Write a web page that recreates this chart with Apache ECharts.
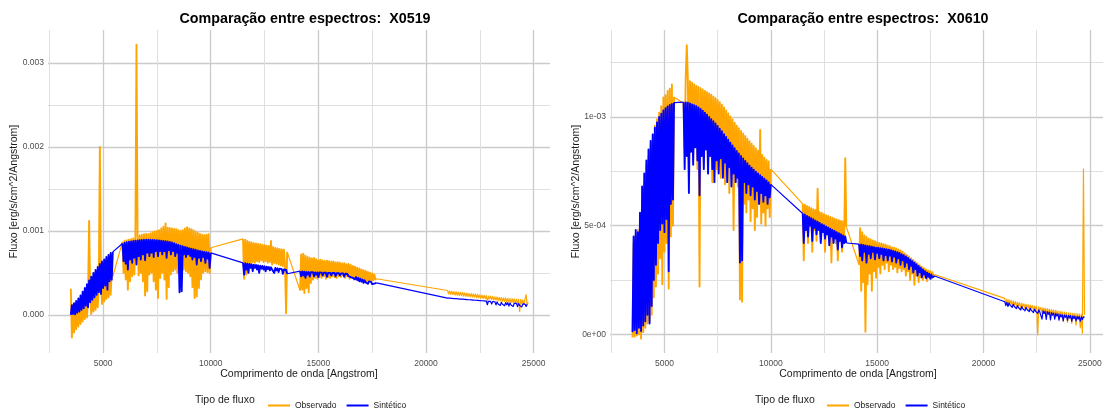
<!DOCTYPE html>
<html>
<head>
<meta charset="utf-8">
<script src="https://cdn.jsdelivr.net/npm/echarts@6/dist/echarts.min.js"></script>
<style>
  html, body { margin: 0; padding: 0; background: #ffffff; }
  #chart { width: 1103px; height: 412px; }
</style>
</head>
<body>
<div id="chart"></div>
<script>
// Spectra sampled on a 50 Angstrom grid inside each observed window.
// Flux values are in units of 1e-6 erg/s/cm^2/Angstrom.
const STEP = 50;
const windowStarts = [3500, 5900, 11500, 14150, 21000];
// windows rich in absorption lines, drawn with a heavier stroke
const denseWindows = [true, true, true, true, false];

const observedX0519 = [
  [310, -270, 120, -210, 100, -170, 110, -140, 130, -110, 150, -80, 170, -50, 200, -30, 230, 1120, 260, 10,
   290, 40, 320, 60, 350, 90, 380, 2000, 410, 130, 430, 160, 460, 190, 480, 210, 500, 240, 520, 460],
  [870, 500, 880, 420, 890, 300, 895, 400, 900, 460, 910, 480, 925, 3220, 935, 470, 945, 500, 955, 400,
   960, 230, 965, 280, 960, 480, 970, 500, 985, 400, 995, 300, 1000, 200, 1010, 440, 1030, 500, 1050, 420,
   1090, 190, 1040, 330, 1035, 480, 1030, 520, 1025, 540, 1020, 500, 1010, 520, 1000, 540, 1010, 540, 1030,
   520, 1045, 500, 1030, 460, 1020, 330, 1010, 200, 990, 220, 975, 320, 965, 420, 955, 500, 950, 520, 955,
   510, 960, 500, 800],
  [905, 430, 895, 480, 880, 620, 870, 600, 862, 630, 855, 620, 850, 640, 845, 630, 842, 650, 835, 630,
   830, 640, 825, 620, 820, 630, 880, 600, 805, 620, 798, 610, 790, 600, 785, 590, 780, 580, 775, 600,
   20, 750],
  [290, 720, 300, 730, 260, 705, 320, 690, 270, 680, 380, 672, 420, 678, 440, 662, 430, 652, 450, 658,
   440, 648, 460, 642, 430, 646, 450, 640, 440, 632, 460, 636, 450, 624, 440, 628, 460, 620, 450, 612,
   470, 616, 440, 604, 460, 606, 430, 594, 450, 584, 420, 574, 440, 562, 410, 552, 430, 542, 400, 532,
   420, 522, 390, 512, 410, 502, 400, 492, 410, 482, 420, 430],
  [290, 250, 286, 243, 281, 242, 277, 236, 275, 233, 271, 231, 267, 229, 266, 224, 261, 221, 259, 219,
   254, 215, 253, 211, 249, 212, 247, 204, 243, 203, 238, 196, 236, 194, 231, 193, 229, 160, 224, 187,
   223, 181, 219, 177, 214, 176, 213, 169, 207, 166, 206, 161, 201, 159, 200, 153, 197, 151, 194, 147,
   193, 144, 189, 141, 188, 134, 184, 40, 183, 129, 179, 126, 186, 240, 120, 150]
];

const syntheticX0519 = [
  [0, 115, 10, 140, 5, 165, 25, 195, 40, 230, 60, 275, 80, 320, 110, 365, 90, 410, 150, 455,
   180, 500, 210, 535, 240, 570, 270, 605, 250, 635, 320, 660, 350, 690, 300, 715, 400, 738, 420, 750],
  [850, 640, 860, 610, 866, 540, 871, 660, 876, 620, 880, 680, 884, 600, 887, 700, 890, 660, 892, 720,
   894, 650, 895, 740, 895, 700, 894, 740, 893, 690, 891, 760, 889, 700, 887, 760, 884, 720, 881, 760,
   878, 680, 874, 770, 869, 720, 862, 760, 853, 700, 843, 740, 833, 270, 825, 280, 818, 720, 810, 690,
   803, 720, 795, 700, 788, 660, 782, 690, 775, 600, 768, 680, 762, 640, 756, 690, 750, 620, 746, 670,
   742, 560, 738],
  [620, 480, 615, 540, 610, 500, 606, 560, 602, 520, 598, 560, 594, 540, 590, 500, 586, 550, 582, 540,
   578, 520, 574, 545, 570, 530, 566, 540, 562, 500, 558, 530, 554, 510, 550, 530, 545, 490, 540, 520,
   535, 490],
  [520, 460, 518, 470, 515, 440, 512, 480, 510, 455, 508, 485, 507, 460, 506, 480, 505, 450, 504, 485,
   503, 470, 502, 490, 501, 455, 500, 485, 500, 470, 499, 488, 498, 460, 497, 485, 496, 470, 494, 480,
   492, 455, 490, 475, 486, 460, 480, 450, 472, 440, 462, 425, 450, 415, 440, 400, 430, 395, 420, 380,
   412, 385, 405, 370, 398, 375, 392, 365, 388, 372, 384, 380],
  [200, 185, 198, 190, 196, 180, 194, 186, 192, 178, 190, 182, 188, 175, 186, 178, 184, 172, 182, 175,
   180, 168, 178, 170, 176, 165, 174, 168, 172, 160, 170, 164, 168, 158, 166, 150, 164, 120, 162, 140,
   160, 130, 158, 135, 156, 118, 154, 130, 152, 112, 150, 125, 148, 108, 146, 120, 144, 104, 142, 118,
   140, 100, 138, 115, 136, 98, 134, 110, 132, 95, 130, 108, 128, 100, 126]
];

const observedX0610 = [
  [-15, 420, -10, 460, -5, 480, 0, 520, -20, 620, 10, 700, 30, 780, 50, 820, 60, 870, 90, 920,
   170, 960, 220, 990, 280, 1020, 350, 1050, 230, 1090, 380, 1100, 420, 1120, 210, 1130, 450, 1150, 500, 1092],
  [1062, 850, 1180, 1330, 1175, 720, 1165, 860, 1158, 800, 1150, 880, 1143, 760, 1138, 220, 1132, 840, 1126, 780,
   1120, 870, 1114, 740, 1108, 850, 1102, 700, 1094, 820, 1086, 760, 1078, 840, 1068, 720, 1056, 800, 1044, 690,
   1030, 780, 1016, 650, 1002, 760, 988, 480, 974, 720, 960, 680, 948, 160, 936, 150, 924, 600, 912, 560,
   900, 620, 888, 520, 877, 580, 866, 480, 855, 540, 845, 600, 940, 510, 825, 560, 812, 500, 802, 580,
   795, 540, 760],
  [600, 340, 596, 480, 590, 420, 586, 500, 580, 380, 576, 480, 572, 430, 670, 490, 562, 450, 558, 470,
   552, 380, 548, 460, 544, 440, 540, 330, 536, 450, 532, 420, 528, 340, 525, 430, 522, 380, 520, 420,
   810, 495],
  [320, 488, 200, 470, 240, 455, 12, 448, 230, 440, 280, 436, 200, 432, 290, 428, 260, 424, 310, 420,
   280, 418, 320, 415, 300, 412, 330, 408, 290, 405, 320, 400, 300, 398, 310, 395, 285, 390, 305, 386,
   290, 380, 300, 372, 270, 365, 290, 358, 250, 350, 280, 342, 228, 334, 270, 326, 240, 318, 262, 310,
   250, 304, 262, 298, 245, 294, 262, 290, 255, 286, 266, 275],
  [165, 138, 162, 132, 160, 140, 156, 128, 154, 136, 150, 125, 148, 132, 145, 120, 143, 128, 140, 118,
   138, 124, 136, 112, 134, 120, 132, 108, 130, 115, 128, -3, 126, 110, 124, 100, 122, 106, 120, 95,
   118, 100, 116, 88, 114, 96, 112, 82, 110, 92, 108, 70, 106, 88, 104, 60, 102, 84, 100, 55,
   99, 80, 98, 50, 97, 75, 96, 42, 95, 70, 94, 30, 93, 5, 760, 90]
];

const syntheticX0610 = [
  [10, 450, 20, 480, 5, 470, 30, 560, 15, 680, 40, 740, 60, 800, 90, 850, 50, 890, 130, 920,
   250, 950, 320, 975, 420, 1000, 480, 1015, 510, 1030, 470, 1040, 530, 1048, 290, 1055, 600, 1060, 620, 1066],
  [1068, 760, 1067, 820, 1066, 650, 1062, 840, 1058, 780, 1054, 860, 1049, 800, 1044, 640, 1037, 820, 1029, 760,
   1020, 850, 1010, 740, 1000, 820, 990, 760, 980, 700, 970, 800, 958, 740, 946, 810, 934, 720, 921, 790,
   908, 700, 895, 770, 882, 680, 869, 740, 856, 700, 844, 720, 832, 330, 820, 340, 809, 700, 798, 650,
   787, 690, 776, 640, 766, 680, 757, 620, 748, 660, 740, 600, 732, 650, 724, 610, 716, 640, 708, 600,
   699, 630, 690],
  [556, 420, 551, 480, 545, 450, 540, 500, 534, 430, 529, 490, 523, 460, 518, 480, 512, 420, 507, 470,
   502, 440, 496, 460, 491, 410, 486, 450, 480, 420, 475, 440, 470, 390, 465, 430, 460, 400, 455, 420,
   450, 420],
  [415, 360, 413, 340, 411, 380, 409, 330, 407, 370, 405, 350, 403, 380, 401, 345, 399, 375, 398, 350,
   396, 370, 395, 340, 393, 365, 391, 340, 389, 362, 387, 335, 384, 358, 381, 330, 378, 350, 374, 320,
   369, 340, 364, 310, 358, 330, 351, 300, 344, 315, 337, 285, 330, 300, 322, 270, 314, 285, 306, 262,
   298, 275, 290, 258, 284, 265, 279, 255, 274, 262, 270, 268],
  [150, 132, 147, 128, 144, 134, 141, 124, 138, 128, 135, 118, 132, 122, 130, 112, 128, 118, 126, 108,
   124, 114, 122, 104, 120, 110, 118, 100, 116, 106, 114, 96, 112, 102, 110, 70, 108, 96, 106, 68,
   104, 92, 102, 66, 100, 88, 98, 70, 96, 84, 94, 65, 92, 80, 90, 62, 89, 78, 88, 64,
   87, 75, 86, 60, 85, 72, 84, 62, 83, 70, 82, 60, 81, 68, 80, 78]
];

// Axis ranges (wavelength in Angstrom, flux in 1e-6 units) and tick labels
const xRange = [2440, 25760];
const xTicks = [5000, 10000, 15000, 20000, 25000];
const yRangeX0519 = [-455, 3395];
const yTicksX0519 = [0, 1000, 2000, 3000];
const yTickTextX0519 = ['0.000', '0.001', '0.002', '0.003'];
const yRangeX0610 = [-86, 1400];
const yTicksX0610 = [0, 500, 1000];
const yTickTextX0610 = ['0e+00', '5e-04', '1e-03'];

const seriesNames = ['Observado', 'Sintético'];
const titles = ['Comparação entre espectros:  X0519', 'Comparação entre espectros:  X0610'];

const FONT = '"Liberation Sans", Arial, Helvetica, sans-serif';
const COLOR_OBS = '#FFA500';
const COLOR_SYN = '#0000FF';
const GAP = '-';

function windowPoints(vals, b) {
  return vals.map((v, i) => [windowStarts[b] + i * STEP, v]);
}

// Dense windows only, broken between windows.
function densePart(blocks) {
  const out = [];
  blocks.forEach((vals, b) => {
    if (!denseWindows[b]) return;
    const pts = windowPoints(vals, b);
    if (out.length) out.push([pts[0][0] - 1, GAP]);
    pts.forEach(p => out.push(p));
  });
  return out;
}

// Straight joins across unobserved ranges plus the sparse windows.
function joinPart(blocks) {
  const out = [];
  blocks.forEach((vals, b) => {
    const pts = windowPoints(vals, b);
    if (denseWindows[b]) {
      out.push(pts[0]);
      out.push([pts[0][0] + 1, GAP]);
      out.push(pts[pts.length - 1]);
    } else {
      pts.forEach(p => out.push(p));
    }
  });
  return out;
}

function xAxes(gridIndex) {
  const base = {
    type: 'value', gridIndex, position: 'bottom', min: xRange[0], max: xRange[1],
    axisLine: { show: false }, axisTick: { show: false }
  };
  return [
    Object.assign({}, base, {
      minInterval: 2500, maxInterval: 2500,
      axisLabel: { show: false },
      splitLine: { show: true, showMinLine: false, showMaxLine: false, lineStyle: { color: '#DFDFDF', width: 1 } }
    }),
    Object.assign({}, base, {
      minInterval: 5000, maxInterval: 5000,
      axisLabel: {
        show: true, showMinLabel: false, showMaxLabel: false, margin: 6,
        fontSize: 8.5, color: '#4D4D4D', fontFamily: FONT,
        formatter: v => (xTicks.indexOf(Math.round(v)) >= 0 ? String(Math.round(v)) : '')
      },
      splitLine: { show: true, showMinLine: false, showMaxLine: false, lineStyle: { color: '#CBCBCB', width: 1.3 } },
      name: 'Comprimento de onda [Angstrom]', nameLocation: 'middle', nameGap: 16,
      nameMoveOverlap: false,
      nameTextStyle: { fontSize: 10.5, color: '#1A1A1A', fontFamily: FONT }
    })
  ];
}

function yAxes(gridIndex, range, minorStep, majorStep, ticks, texts) {
  const base = {
    type: 'value', gridIndex, position: 'left', min: range[0], max: range[1],
    axisLine: { show: false }, axisTick: { show: false }
  };
  return [
    Object.assign({}, base, {
      minInterval: minorStep, maxInterval: minorStep,
      axisLabel: { show: false },
      splitLine: { show: true, showMinLine: false, showMaxLine: false, lineStyle: { color: '#DFDFDF', width: 1 } }
    }),
    Object.assign({}, base, {
      minInterval: majorStep, maxInterval: majorStep,
      axisLabel: {
        show: true, showMinLabel: false, showMaxLabel: false, margin: 4,
        fontSize: 8.5, color: '#4D4D4D', fontFamily: FONT,
        formatter: v => { const i = ticks.indexOf(Math.round(v)); return i >= 0 ? texts[i] : ''; }
      },
      splitLine: { show: true, showMinLine: false, showMaxLine: false, lineStyle: { color: '#CBCBCB', width: 1.3 } },
      name: 'Fluxo [erg/s/cm^2/Angstrom]', nameLocation: 'middle', nameRotate: 90, nameGap: 28,
      nameMoveOverlap: false,
      nameTextStyle: { fontSize: 10.5, color: '#1A1A1A', fontFamily: FONT }
    })
  ];
}

function lineSeries(name, color, axisIndex, data, width) {
  return {
    name, type: 'line', xAxisIndex: axisIndex, yAxisIndex: axisIndex,
    data, showSymbol: false, symbol: 'none', smooth: false, clip: true, sampling: 'none',
    connectNulls: false,
    lineStyle: { color, width, join: 'round' }, itemStyle: { color },
    emphasis: { disabled: true }, silent: true
  };
}

function spectrumSeries(name, color, axisIndex, blocks) {
  return [
    lineSeries(name, color, axisIndex, densePart(blocks), 1.9),
    lineSeries(name, color, axisIndex, joinPart(blocks), 1.2)
  ];
}

const grids = [
  { left: 48, top: 30, width: 502, height: 323, outerBoundsMode: 'none', containLabel: false },
  { left: 610, top: 30, width: 496, height: 323, outerBoundsMode: 'none', containLabel: false }
];

function legendFor(left) {
  return {
    left, top: 396, orient: 'horizontal',
    icon: 'rect', itemWidth: 22, itemHeight: 2, itemGap: 10,
    data: seriesNames, selectedMode: false,
    textStyle: { fontSize: 8.5, color: '#1A1A1A', fontFamily: FONT }
  };
}

const option = {
  animation: false,
  backgroundColor: '#ffffff',
  textStyle: { fontFamily: FONT },
  title: [
    { text: titles[0], left: 300, top: 7, textAlign: 'center',
      textStyle: { fontSize: 14.3, fontWeight: 'bold', color: '#000000', fontFamily: FONT } },
    { text: titles[1], left: 858, top: 7, textAlign: 'center',
      textStyle: { fontSize: 14.3, fontWeight: 'bold', color: '#000000', fontFamily: FONT } }
  ],
  legend: [legendFor(263), legendFor(822)],
  graphic: [
    { type: 'text', left: 195, top: 395, style: { text: 'Tipo de fluxo', fontSize: 10.5, fill: '#1A1A1A', fontFamily: FONT } },
    { type: 'text', left: 755, top: 395, style: { text: 'Tipo de fluxo', fontSize: 10.5, fill: '#1A1A1A', fontFamily: FONT } }
  ],
  grid: grids,
  xAxis: [].concat(xAxes(0), xAxes(1)),
  yAxis: [].concat(
    yAxes(0, yRangeX0519, 500, 1000, yTicksX0519, yTickTextX0519),
    yAxes(1, yRangeX0610, 250, 500, yTicksX0610, yTickTextX0610)
  ),
  series: [].concat(
    spectrumSeries(seriesNames[0], COLOR_OBS, 1, observedX0519),
    spectrumSeries(seriesNames[1], COLOR_SYN, 1, syntheticX0519),
    spectrumSeries(seriesNames[0], COLOR_OBS, 3, observedX0610),
    spectrumSeries(seriesNames[1], COLOR_SYN, 3, syntheticX0610)
  )
};

const chart = echarts.init(document.getElementById('chart'), null, { renderer: 'canvas' });
chart.setOption(option);
</script>
</body>
</html>
